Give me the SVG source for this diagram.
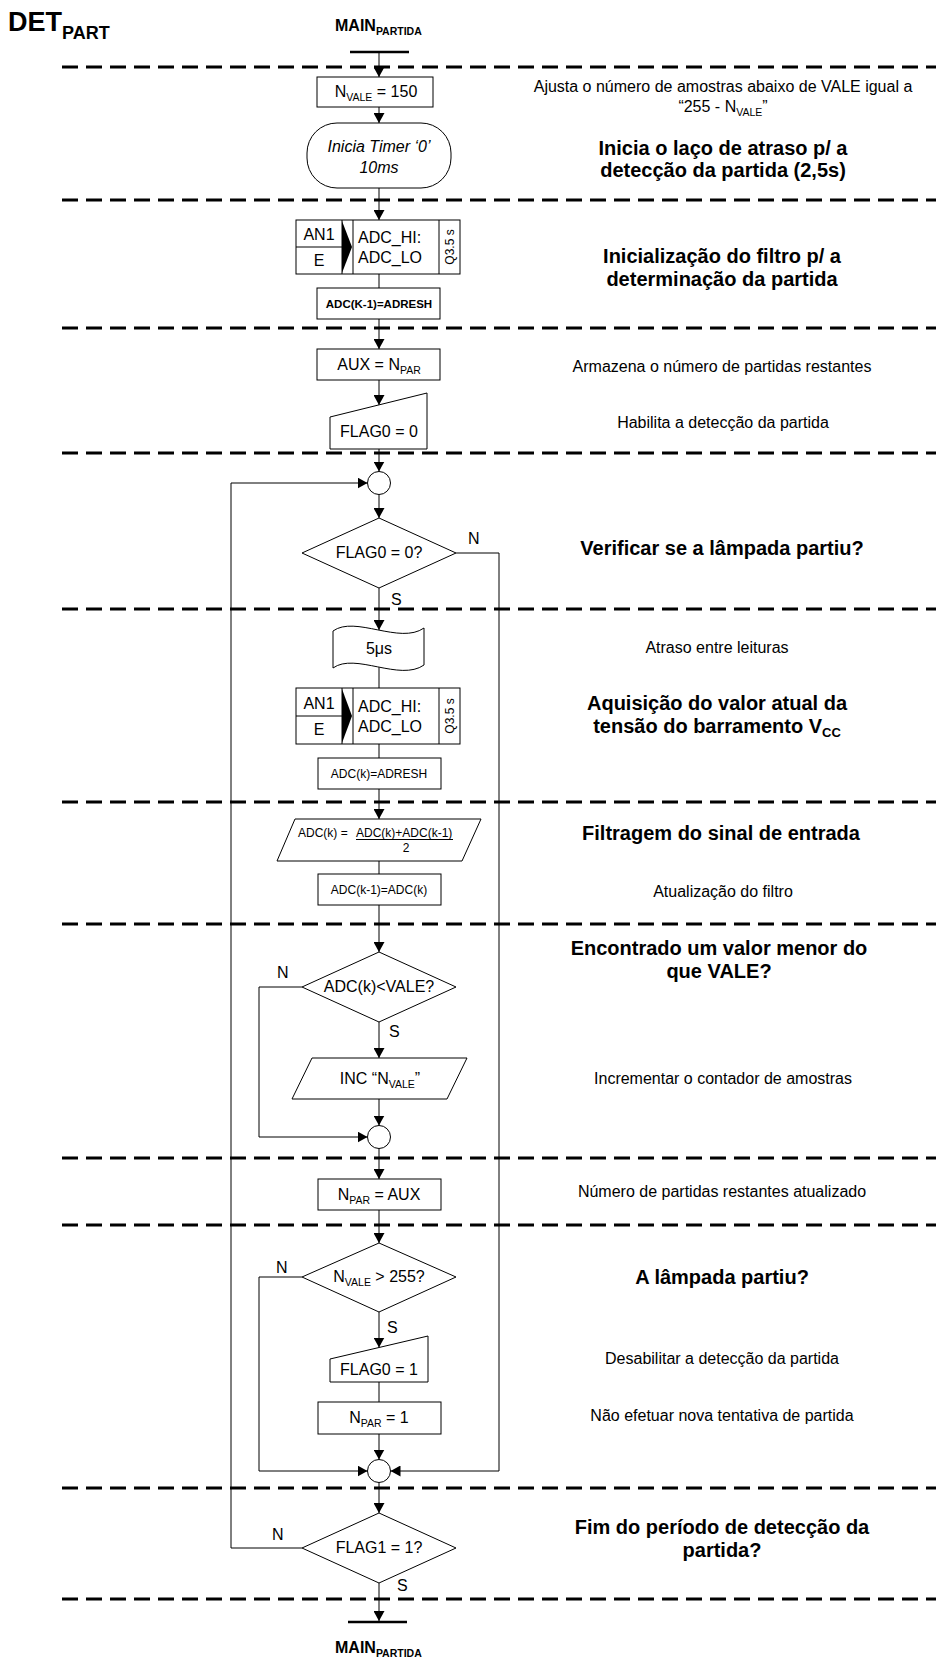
<svg xmlns="http://www.w3.org/2000/svg" width="936" height="1659" viewBox="0 0 936 1659">
  <style>
    text { font-family: "Liberation Sans", Arial, Helvetica, sans-serif; fill: #000; }
    .t { font-size: 16px; }
    .s { font-size: 12px; }
    .b { font-size: 20px; font-weight: bold; }
    .c { text-anchor: middle; }
    .it { font-style: italic; }
    .sub { font-size: 10.5px; }
    .shape { fill: #fff; stroke: #000; stroke-width: 1; }
    .ln { fill: none; stroke: #000; stroke-width: 1; }
    .arr { fill: none; stroke: #000; stroke-width: 1; marker-end: url(#ah); }
    .dash { stroke: #000; stroke-width: 3; stroke-dasharray: 16 8; }
    .bar { stroke: #000; stroke-width: 2.5; }
  </style>
  <defs>
    <marker id="ah" markerUnits="userSpaceOnUse" markerWidth="10" markerHeight="11" refX="10" refY="5.5" orient="auto">
      <path d="M0,0 L10,5.5 L0,11 Z" fill="#000"/>
    </marker>
  </defs>
  <rect width="936" height="1659" fill="#fff"/>

  <!-- title -->
  <text x="8" y="31" style="font-size:27px;font-weight:bold">DET<tspan dy="8" style="font-size:18px">PART</tspan></text>

  <!-- section separators -->
  <g id="separators">
    <line class="dash" x1="62" y1="67" x2="936" y2="67"/>
    <line class="dash" x1="62" y1="200" x2="936" y2="200"/>
    <line class="dash" x1="62" y1="328" x2="936" y2="328"/>
    <line class="dash" x1="62" y1="453" x2="936" y2="453"/>
    <line class="dash" x1="62" y1="609" x2="936" y2="609"/>
    <line class="dash" x1="62" y1="802" x2="936" y2="802"/>
    <line class="dash" x1="62" y1="924" x2="936" y2="924"/>
    <line class="dash" x1="62" y1="1158" x2="936" y2="1158"/>
    <line class="dash" x1="62" y1="1225" x2="936" y2="1225"/>
    <line class="dash" x1="62" y1="1488" x2="936" y2="1488"/>
    <line class="dash" x1="62" y1="1599" x2="936" y2="1599"/>
  </g>

  <!-- connectors -->
  <g id="connectors">
    <path class="arr" d="M379,52 V77"/>
    <path class="arr" d="M379,107 V123"/>
    <path class="arr" d="M379,188 V220"/>
    <path class="ln" d="M379,274 V288"/>
    <path class="arr" d="M379,319 V349"/>
    <path class="arr" d="M379,380 V405"/>
    <path class="arr" d="M379,449 V471.5"/>
    <path class="arr" d="M379,494.5 V518"/>
    <path class="arr" d="M379,588 V630"/>
    <path class="ln" d="M379,667 V688"/>
    <path class="ln" d="M379,744 V758"/>
    <path class="arr" d="M379,789 V819"/>
    <path class="ln" d="M379,861 V874"/>
    <path class="arr" d="M379,905 V952"/>
    <path class="arr" d="M379,1022 V1058"/>
    <path class="arr" d="M379,1099 V1125.5"/>
    <path class="arr" d="M302,987 H259 V1137 H367.5"/>
    <path class="arr" d="M379,1148.5 V1179"/>
    <path class="arr" d="M379,1210 V1243"/>
    <path class="arr" d="M379,1312 V1347.5"/>
    <path class="ln" d="M379,1382 V1402"/>
    <path class="arr" d="M379,1434 V1459.5"/>
    <path class="arr" d="M302,1277 H259 V1471 H367.5"/>
    <path class="arr" d="M456,553 H499 V1471 H390.5"/>
    <path class="arr" d="M379,1482.5 V1513"/>
    <path class="arr" d="M302,1548 H231 V483 H367.5"/>
    <path class="arr" d="M379,1583 V1621"/>
    <text class="t" x="468" y="544">N</text>
    <text class="t" x="391" y="605">S</text>
    <text class="t" x="277" y="978">N</text>
    <text class="t" x="389" y="1037">S</text>
    <text class="t" x="276" y="1273">N</text>
    <text class="t" x="387" y="1333">S</text>
    <text class="t" x="272" y="1540">N</text>
    <text class="t" x="397" y="1591">S</text>
  </g>

  <!-- entry -->
  <g id="start">
    <text x="335" y="31" style="font-size:16px;font-weight:bold">MAIN<tspan dy="4" style="font-size:10.5px">PARTIDA</tspan></text>
    <line class="bar" x1="350" y1="52" x2="409" y2="52"/>
  </g>

  <g id="n-vale-init">
    <rect class="shape" x="317" y="77" width="116" height="30"/>
    <text class="t c" x="376" y="97">N<tspan dy="4" class="sub">VALE</tspan><tspan dy="-4"> = 150</tspan></text>
  </g>

  <g id="timer0">
    <rect class="shape" x="307" y="123" width="144" height="65" rx="30" ry="30"/>
    <text class="t c it" x="379" y="152">Inicia Timer ‘0’</text>
    <text class="t c it" x="379" y="173">10ms</text>
  </g>

  <g id="adc-read-1">
    <rect class="shape" x="296" y="220" width="164" height="54"/>
    <line class="ln" x1="296" y1="247" x2="342" y2="247"/>
    <line class="ln" x1="342" y1="220" x2="342" y2="274"/>
    <path d="M342,221 L352,247 L342,273 Z" fill="#000"/>
    <line class="ln" x1="353" y1="220" x2="353" y2="274"/>
    <line class="ln" x1="439" y1="220" x2="439" y2="274"/>
    <text class="t c" x="319" y="240">AN1</text>
    <text class="t c" x="319" y="266">E</text>
    <text class="t" x="358" y="243">ADC_HI:</text>
    <text class="t" x="358" y="263">ADC_LO</text>
    <text class="s c" transform="translate(454 247) rotate(-90)">Q3.5 s</text>
  </g>

  <g id="adc-prev-init">
    <rect class="shape" x="317" y="288" width="123" height="31"/>
    <text class="c" x="379" y="308" style="font-size:11.5px;font-weight:bold">ADC(K-1)=ADRESH</text>
  </g>

  <g id="aux-save">
    <rect class="shape" x="317" y="349" width="123" height="31"/>
    <text class="t c" x="379" y="370">AUX = N<tspan dy="4" class="sub">PAR</tspan></text>
  </g>

  <g id="flag0-clear">
    <path class="shape" d="M330,417 L427,393 L427,449 L330,449 Z"/>
    <text class="t c" x="379" y="437">FLAG0 = 0</text>
  </g>

  <g id="join-loop">
    <circle class="shape" cx="379" cy="483" r="11.5"/>
  </g>

  <g id="test-flag0">
    <path class="shape" d="M379,518 L456,553 L379,588 L302,553 Z"/>
    <text class="t c" x="379" y="558">FLAG0 = 0?</text>
  </g>

  <g id="delay-5us">
    <path class="shape" d="M333,631 C355,615 400,645 424,628 L424,665 C400,682 355,652 333,668 Z"/>
    <text class="t c" x="379" y="654">5μs</text>
  </g>

  <g id="adc-read-2">
    <rect class="shape" x="296" y="688" width="164" height="56"/>
    <line class="ln" x1="296" y1="716" x2="342" y2="716"/>
    <line class="ln" x1="342" y1="688" x2="342" y2="744"/>
    <path d="M342,689 L352,716 L342,743 Z" fill="#000"/>
    <line class="ln" x1="353" y1="688" x2="353" y2="744"/>
    <line class="ln" x1="439" y1="688" x2="439" y2="744"/>
    <text class="t c" x="319" y="709">AN1</text>
    <text class="t c" x="319" y="735">E</text>
    <text class="t" x="358" y="712">ADC_HI:</text>
    <text class="t" x="358" y="732">ADC_LO</text>
    <text class="s c" transform="translate(454 716) rotate(-90)">Q3.5 s</text>
  </g>

  <g id="adc-store">
    <rect class="shape" x="318" y="758" width="123" height="31"/>
    <text class="s c" x="379" y="778">ADC(k)=ADRESH</text>
  </g>

  <g id="filter-average">
    <path class="shape" d="M295,819 L481,819 L462,861 L277,861 Z"/>
    <text class="s" x="298" y="837">ADC(k) = </text>
    <text class="s" x="356" y="837">ADC(k)+ADC(k-1)</text>
    <line class="ln" x1="356" y1="839.5" x2="453" y2="839.5"/>
    <text class="s c" x="406" y="852">2</text>
  </g>

  <g id="filter-update">
    <rect class="shape" x="318" y="874" width="123" height="31"/>
    <text class="s c" x="379" y="894">ADC(k-1)=ADC(k)</text>
  </g>

  <g id="test-vale">
    <path class="shape" d="M379,952 L456,987 L379,1022 L302,987 Z"/>
    <text class="t c" x="379" y="992">ADC(k)&lt;VALE?</text>
  </g>

  <g id="inc-nvale">
    <path class="shape" d="M312,1058 L467,1058 L447,1099 L292,1099 Z"/>
    <text class="t c" x="380" y="1084">INC “N<tspan dy="4" class="sub">VALE</tspan><tspan dy="-4">”</tspan></text>
  </g>

  <g id="join-vale">
    <circle class="shape" cx="379" cy="1137" r="11.5"/>
  </g>

  <g id="npar-restore">
    <rect class="shape" x="318" y="1179" width="123" height="31"/>
    <text class="t c" x="379" y="1200">N<tspan dy="4" class="sub">PAR</tspan><tspan dy="-4"> = AUX</tspan></text>
  </g>

  <g id="test-nvale">
    <path class="shape" d="M379,1243 L456,1277 L379,1312 L302,1277 Z"/>
    <text class="t c" x="379" y="1282">N<tspan dy="4" class="sub">VALE</tspan><tspan dy="-4"> &gt; 255?</tspan></text>
  </g>

  <g id="flag0-set">
    <path class="shape" d="M330,1359 L428,1336 L428,1382 L330,1382 Z"/>
    <text class="t c" x="379" y="1375">FLAG0 = 1</text>
  </g>

  <g id="npar-one">
    <rect class="shape" x="318" y="1402" width="123" height="32"/>
    <text class="t c" x="379" y="1423">N<tspan dy="4" class="sub">PAR</tspan><tspan dy="-4"> = 1</tspan></text>
  </g>

  <g id="join-end">
    <circle class="shape" cx="379" cy="1471" r="11.5"/>
  </g>

  <g id="test-flag1">
    <path class="shape" d="M379,1513 L456,1548 L379,1583 L302,1548 Z"/>
    <text class="t c" x="379" y="1553">FLAG1 = 1?</text>
  </g>

  <g id="exit">
    <line class="bar" x1="348" y1="1622" x2="407" y2="1622"/>
    <text x="335" y="1653" style="font-size:16px;font-weight:bold">MAIN<tspan dy="4" style="font-size:10.5px">PARTIDA</tspan></text>
  </g>

  <!-- step descriptions -->
  <g id="notes">
    <text class="t c" x="723" y="92">Ajusta o número de amostras abaixo de VALE igual a</text>
    <text class="t c" x="723" y="112">“255 - N<tspan dy="4" class="sub">VALE</tspan><tspan dy="-4">”</tspan></text>
    <text class="b c" x="723" y="155">Inicia o laço de atraso p/ a</text>
    <text class="b c" x="723" y="177">detecção da partida (2,5s)</text>
    <text class="b c" x="722" y="263">Inicialização do filtro p/ a</text>
    <text class="b c" x="722" y="286">determinação da partida</text>
    <text class="t c" x="722" y="372">Armazena o número de partidas restantes</text>
    <text class="t c" x="723" y="428">Habilita a detecção da partida</text>
    <text class="b c" x="722" y="555">Verificar se a lâmpada partiu?</text>
    <text class="t c" x="717" y="653">Atraso entre leituras</text>
    <text class="b c" x="717" y="710">Aquisição do valor atual da</text>
    <text class="b c" x="717" y="733">tensão do barramento V<tspan dy="4" style="font-size:13px">CC</tspan></text>
    <text class="b c" x="721" y="840">Filtragem do sinal de entrada</text>
    <text class="t c" x="723" y="897">Atualização do filtro</text>
    <text class="b c" x="719" y="955">Encontrado um valor menor do</text>
    <text class="b c" x="719" y="978">que VALE?</text>
    <text class="t c" x="723" y="1084">Incrementar o contador de amostras</text>
    <text class="t c" x="722" y="1197">Número de partidas restantes atualizado</text>
    <text class="b c" x="722" y="1284">A lâmpada partiu?</text>
    <text class="t c" x="722" y="1364">Desabilitar a detecção da partida</text>
    <text class="t c" x="722" y="1421">Não efetuar nova tentativa de partida</text>
    <text class="b c" x="722" y="1534">Fim do período de detecção da</text>
    <text class="b c" x="722" y="1557">partida?</text>
  </g>
</svg>
